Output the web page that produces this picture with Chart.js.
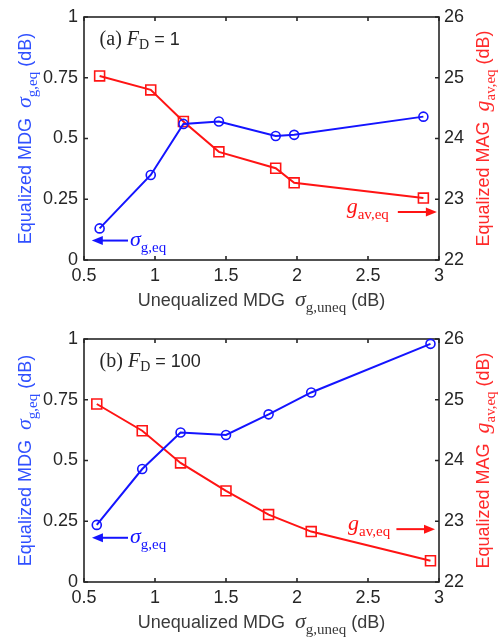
<!DOCTYPE html>
<html>
<head>
<meta charset="utf-8">
<script src="https://cdn.jsdelivr.net/npm/chart.js@4.4.0/dist/chart.umd.min.js"></script>
<style>
body { margin: 0; background: #fff; width: 500px; height: 637px; overflow: hidden; position: relative; }
canvas { position: absolute; left: 0; }
</style>
</head>
<body>
<canvas id="chartA" width="500" height="320" style="top:0;width:500px;height:320px"></canvas>
<canvas id="chartB" width="500" height="317" style="top:320px;width:500px;height:317px"></canvas>
<script>
// (a) F_D = 1
var xA = [0.61, 0.97, 1.2, 1.45, 1.85, 1.98, 2.89]
var sigmaA = [0.13, 0.35, 0.56, 0.57, 0.51, 0.515, 0.59]
var gainA = [25.03, 24.8, 24.28, 23.78, 23.51, 23.27, 23.02]
// (b) F_D = 100
var xB = [0.59, 0.91, 1.18, 1.5, 1.8, 2.1, 2.94]
var sigmaB = [0.235, 0.465, 0.615, 0.605, 0.69, 0.78, 0.98]
var gainB = [24.93, 24.49, 23.96, 23.5, 23.11, 22.83, 22.35]

var xTicks = [0.5, 1, 1.5, 2, 2.5, 3]
var leftTicks = [0, 0.25, 0.5, 0.75, 1]
var rightTicks = [22, 23, 24, 25, 26]

var SANS = '"Liberation Sans", Arial, sans-serif'
var SERIF = '"Liberation Serif", "Times New Roman", serif'
var BLUE = '#1414ff'
var RED = '#ff1414'
var DARK = '#262626'

function drawRich(ctx, parts, x, y, align) {
    var w = 0
    parts.forEach(function(p) { ctx.font = p.f; p.w = ctx.measureText(p.t).width; w += p.w })
    var cx = align == 'center' ? x - w / 2 : x
    ctx.textAlign = 'left'
    ctx.textBaseline = 'alphabetic'
    parts.forEach(function(p) {
        ctx.font = p.f
        ctx.fillStyle = p.c
        ctx.fillText(p.t, cx, y + (p.dy || 0))
        cx += p.w
    })
}

function arrow(ctx, x0, x1, y, color) {
    var dir = x1 > x0 ? 1 : -1
    ctx.strokeStyle = color
    ctx.fillStyle = color
    ctx.lineWidth = 2
    ctx.beginPath(); ctx.moveTo(x0, y); ctx.lineTo(x1 - dir * 8, y); ctx.stroke()
    ctx.beginPath()
    ctx.moveTo(x1, y); ctx.lineTo(x1 - dir * 11, y - 4.5); ctx.lineTo(x1 - dir * 11, y + 4.5)
    ctx.closePath(); ctx.fill()
}

var decoPlugin = {
    id: 'deco',
    beforeDatasetsDraw: function(chart) {
        var ctx = chart.ctx, a = chart.chartArea, s = chart.scales
        ctx.save()
        ctx.strokeStyle = DARK
        ctx.lineWidth = 1.6
        ctx.strokeRect(a.left, a.top, a.right - a.left, a.bottom - a.top)
        ctx.beginPath()
        xTicks.forEach(function(v) {
            var px = s.x.getPixelForValue(v)
            ctx.moveTo(px, a.bottom); ctx.lineTo(px, a.bottom - 4)
            ctx.moveTo(px, a.top); ctx.lineTo(px, a.top + 4)
        })
        leftTicks.forEach(function(v) {
            var py = s.y.getPixelForValue(v)
            ctx.moveTo(a.left, py); ctx.lineTo(a.left + 4, py)
        })
        rightTicks.forEach(function(v) {
            var py = s.y2.getPixelForValue(v)
            ctx.moveTo(a.right, py); ctx.lineTo(a.right - 4, py)
        })
        ctx.stroke()
        ctx.restore()
    },
    afterDatasetsDraw: function(chart) {
        var ctx = chart.ctx, a = chart.chartArea, s = chart.scales
        var o = chart.options.plugins.deco
        ctx.save()

        // panel label
        drawRich(ctx, [
            {t: o.tag + ' ', f: '20px ' + SERIF, c: DARK},
            {t: 'F', f: 'italic 20px ' + SERIF, c: DARK},
            {t: 'D', f: '14px ' + SERIF, c: DARK, dy: 4},
            {t: ' = ' + o.fd, f: '18px ' + SANS, c: DARK}
        ], s.x.getPixelForValue(o.panel[0]), s.y.getPixelForValue(o.panel[1]), 'left')

        // sigma annotation
        var by = s.y.getPixelForValue(o.blue.y)
        arrow(ctx, s.x.getPixelForValue(o.blue.tail), s.x.getPixelForValue(o.blue.tip), by, BLUE)
        drawRich(ctx, [
            {t: 'σ', f: 'italic 22px ' + SERIF, c: BLUE},
            {t: 'g,eq', f: '15px ' + SERIF, c: BLUE, dy: 6}
        ], s.x.getPixelForValue(o.blue.text), by + 5, 'left')

        // gain annotation
        var ry = s.y2.getPixelForValue(o.red.y)
        arrow(ctx, s.x.getPixelForValue(o.red.tail), s.x.getPixelForValue(o.red.tip), ry, RED)
        drawRich(ctx, [
            {t: 'g', f: 'italic 22px ' + SERIF, c: RED},
            {t: 'av,eq', f: '15px ' + SERIF, c: RED, dy: 6}
        ], s.x.getPixelForValue(o.red.text), ry + 1, 'left')

        // x title
        drawRich(ctx, [
            {t: 'Unequalized MDG  ', f: '18px ' + SANS, c: '#3a3a3a'},
            {t: 'σ', f: 'italic 22px ' + SERIF, c: '#3a3a3a'},
            {t: 'g,uneq', f: '15px ' + SERIF, c: '#3a3a3a', dy: 6},
            {t: ' (dB)', f: '18px ' + SANS, c: '#3a3a3a'}
        ], (a.left + a.right) / 2, a.bottom + 46, 'center')

        // left title
        ctx.save()
        ctx.translate(31, (a.top + a.bottom) / 2)
        ctx.rotate(-Math.PI / 2)
        drawRich(ctx, [
            {t: 'Equalized MDG  ', f: '18px ' + SANS, c: '#3050ff'},
            {t: 'σ', f: 'italic 22px ' + SERIF, c: '#3050ff'},
            {t: 'g,eq', f: '15px ' + SERIF, c: '#3050ff', dy: 6},
            {t: ' (dB)', f: '18px ' + SANS, c: '#3050ff'}
        ], 0, 0, 'center')
        ctx.restore()

        // right title
        ctx.save()
        ctx.translate(489, (a.top + a.bottom) / 2)
        ctx.rotate(-Math.PI / 2)
        drawRich(ctx, [
            {t: 'Equalized MAG  ', f: '18px ' + SANS, c: '#ff2a2a'},
            {t: 'g', f: 'italic 22px ' + SERIF, c: '#ff2a2a'},
            {t: 'av,eq', f: '15px ' + SERIF, c: '#ff2a2a', dy: 6},
            {t: ' (dB)', f: '18px ' + SANS, c: '#ff2a2a'}
        ], 0, 0, 'center')
        ctx.restore()

        ctx.restore()
    }
}

function makeChart(id, xs, sigma, gain, padTop, xHeight, deco) {
    var tickFont = {family: SANS, size: 18}
    return new Chart(document.getElementById(id), {
        type: 'scatter',
        data: {
            datasets: [{
                data: xs.map(function(x, i) { return {x: x, y: sigma[i]} }),
                yAxisID: 'y',
                showLine: true,
                borderColor: BLUE,
                backgroundColor: 'rgba(0,0,0,0)',
                borderWidth: 2,
                pointStyle: 'circle',
                pointRadius: 4.5,
                pointBorderWidth: 1.6,
                clip: false
            }, {
                data: xs.map(function(x, i) { return {x: x, y: gain[i]} }),
                yAxisID: 'y2',
                showLine: true,
                borderColor: RED,
                backgroundColor: 'rgba(0,0,0,0)',
                borderWidth: 2,
                pointStyle: 'rect',
                pointRadius: 7,
                pointBorderWidth: 1.6,
                clip: false
            }]
        },
        options: {
            responsive: false,
            animation: false,
            devicePixelRatio: 1,
            layout: {padding: {top: padTop, left: 0, right: 0, bottom: 0}},
            plugins: {legend: {display: false}, tooltip: {enabled: false}, deco: deco},
            scales: {
                x: {
                    type: 'linear', position: 'bottom', min: 0.5, max: 3,
                    afterBuildTicks: function(s) { s.ticks = xTicks.map(function(v) { return {value: v} }) },
                    afterFit: function(s) { s.height = xHeight },
                    ticks: {font: tickFont, color: DARK, padding: 5, maxRotation: 0, autoSkip: false,
                        callback: function(v) { return String(v) }},
                    grid: {display: false, drawTicks: false},
                    border: {display: false}
                },
                y: {
                    type: 'linear', position: 'left', min: 0, max: 1,
                    afterBuildTicks: function(s) { s.ticks = leftTicks.map(function(v) { return {value: v} }) },
                    afterFit: function(s) { s.width = 84 },
                    ticks: {font: tickFont, color: DARK, padding: 6, autoSkip: false,
                        callback: function(v) { return String(v) }},
                    grid: {display: false, drawTicks: false},
                    border: {display: false}
                },
                y2: {
                    type: 'linear', position: 'right', min: 22, max: 26,
                    afterBuildTicks: function(s) { s.ticks = rightTicks.map(function(v) { return {value: v} }) },
                    afterFit: function(s) { s.width = 61 },
                    ticks: {font: tickFont, color: DARK, padding: 5, autoSkip: false,
                        callback: function(v) { return String(v) }},
                    grid: {display: false, drawTicks: false},
                    border: {display: false}
                }
            }
        },
        plugins: [decoPlugin]
    })
}

makeChart('chartA', xA, sigmaA, gainA, 17, 60, {
    tag: '(a)', fd: '1', panel: [0.61, 0.885],
    blue: {tail: 0.81, tip: 0.555, y: 0.08, text: 0.824},
    red: {text: 2.35, tail: 2.71, tip: 2.985, y: 22.79}
})
makeChart('chartB', xB, sigmaB, gainB, 19, 55, {
    tag: '(b)', fd: '100', panel: [0.61, 0.885],
    blue: {tail: 0.81, tip: 0.556, y: 0.182, text: 0.824},
    red: {text: 2.36, tail: 2.70, tip: 2.972, y: 22.87}
})
</script>
</body>
</html>
